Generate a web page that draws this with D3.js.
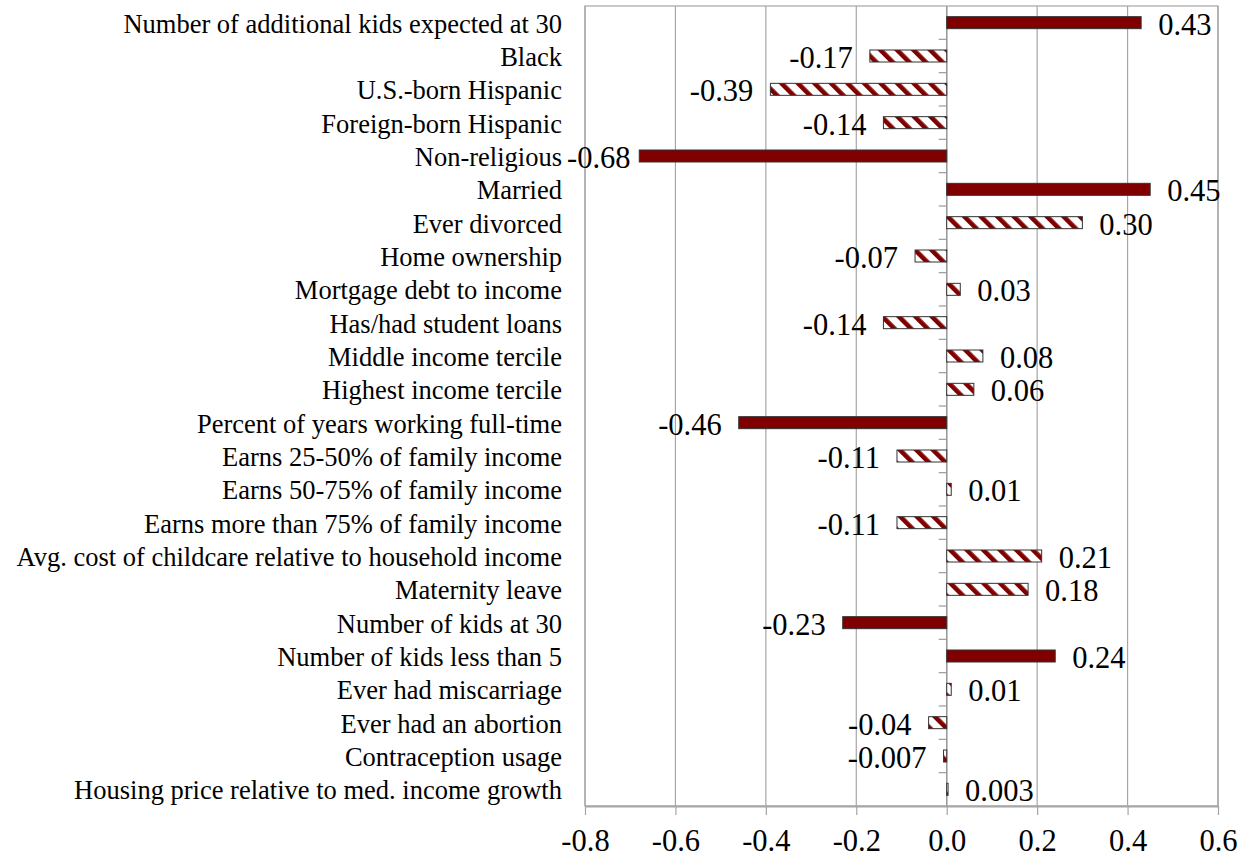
<!DOCTYPE html>
<html>
<head>
<meta charset="utf-8">
<script src="https://cdn.jsdelivr.net/npm/d3@7"></script>
<style>
  html, body { margin: 0; padding: 0; background: #fff; }
  svg { display: block; }
  svg text { font-family: "Liberation Serif", "Times New Roman", Times, serif; fill: #000; }
</style>
</head>
<body>
<svg id="chart" width="1252" height="863"></svg>
<script>
// Coefficient estimates by variable (top to bottom)
const categories = [
  "Number of additional kids expected at 30",
  "Black",
  "U.S.-born Hispanic",
  "Foreign-born Hispanic",
  "Non-religious",
  "Married",
  "Ever divorced",
  "Home ownership",
  "Mortgage debt to income",
  "Has/had student loans",
  "Middle income tercile",
  "Highest income tercile",
  "Percent of years working full-time",
  "Earns 25-50% of family income",
  "Earns 50-75% of family income",
  "Earns more than 75% of family income",
  "Avg. cost of childcare relative to household income",
  "Maternity leave",
  "Number of kids at 30",
  "Number of kids less than 5",
  "Ever had miscarriage",
  "Ever had an abortion",
  "Contraception usage",
  "Housing price relative to med. income growth"
];
const values = [
  0.43, -0.17, -0.39, -0.14, -0.68, 0.45, 0.30, -0.07, 0.03, -0.14,
  0.08, 0.06, -0.46, -0.11, 0.01, -0.11, 0.21, 0.18, -0.23, 0.24,
  0.01, -0.04, -0.007, 0.003
];
// true = statistically significant (solid fill), false = hatched
const significant = [
  true, false, false, false, true, true, false, false, false, false,
  false, false, true, false, false, false, false, false, true, true,
  false, false, false, false
];
const xTicks = [-0.8, -0.6, -0.4, -0.2, 0.0, 0.2, 0.4, 0.6];

const data = categories.map((c, i) => ({ name: c, value: values[i], sig: significant[i] }));

const svg = d3.select("#chart");
const darkRed = "#800000";
const gridColor = "#a6a6a6";

const plot = { left: 585, right: 1218, top: 6, bottom: 806 };

const x = d3.scaleLinear().domain([-0.8, 0.6]).range([plot.left, plot.right]);
const y = d3.scaleBand().domain(categories)
  .range([plot.top, plot.bottom])
  .paddingInner(0.64).paddingOuter(0.32);

// Hyphen-minus formatting
const loc = d3.formatLocale({ decimal: ".", thousands: ",", grouping: [3], currency: ["", ""], minus: "-" });
const fmt1 = loc.format(".1f");
const valueFmt = v => Math.abs(v) < 0.01 ? loc.format(".3f")(v) : loc.format(".2f")(v);

// Diagonal hatch fill
const defs = svg.append("defs");
const pat = defs.append("pattern")
  .attr("id", "hatch")
  .attr("patternUnits", "userSpaceOnUse")
  .attr("width", 11.7).attr("height", 20)
  .attr("patternTransform", "rotate(-45)");
pat.append("rect").attr("width", 11.7).attr("height", 20).attr("fill", "#fff");
pat.append("rect").attr("width", 4.6).attr("height", 20).attr("fill", darkRed);

// Vertical gridlines
svg.append("g")
  .selectAll("line")
  .data(xTicks)
  .join("line")
  .attr("x1", d => x(d)).attr("x2", d => x(d))
  .attr("y1", plot.top).attr("y2", plot.bottom)
  .attr("stroke", gridColor).attr("stroke-width", 1.2);

// Plot frame
svg.append("rect")
  .attr("x", plot.left).attr("y", plot.top)
  .attr("width", plot.right - plot.left).attr("height", plot.bottom - plot.top)
  .attr("fill", "none").attr("stroke", gridColor).attr("stroke-width", 1.2);

// Bottom value axis
const xAxis = svg.append("g")
  .attr("transform", `translate(0,${plot.bottom})`)
  .call(d3.axisBottom(x).tickValues(xTicks).tickFormat(fmt1).tickSizeInner(9).tickSizeOuter(0).tickPadding(14));
xAxis.attr("font-family", null).attr("font-size", null);
xAxis.select(".domain").attr("stroke", gridColor).attr("stroke-width", 2);
xAxis.selectAll(".tick line").attr("stroke", gridColor).attr("stroke-width", 1.2);
xAxis.selectAll(".tick text")
  .style("font-size", "30.5px").attr("fill", "#000");

// Category axis at zero with ticks between categories
const boundaries = d3.range(1, categories.length).map(i => plot.top + i * y.step());
const zeroAxis = svg.append("g");
zeroAxis.append("line")
  .attr("x1", x(0)).attr("x2", x(0))
  .attr("y1", plot.top).attr("y2", plot.bottom)
  .attr("stroke", "#9a9a9a").attr("stroke-width", 1.4);
zeroAxis.selectAll("line.tk")
  .data(boundaries)
  .join("line")
  .attr("class", "tk")
  .attr("x1", x(0) - 8).attr("x2", x(0))
  .attr("y1", d => d).attr("y2", d => d)
  .attr("stroke", "#9a9a9a").attr("stroke-width", 1.2);

// Bars
svg.append("g")
  .selectAll("rect")
  .data(data)
  .join("rect")
  .attr("x", d => x(Math.min(0, d.value)))
  .attr("y", d => y(d.name))
  .attr("width", d => Math.abs(x(d.value) - x(0)))
  .attr("height", y.bandwidth())
  .attr("fill", d => d.sig ? darkRed : "url(#hatch)")
  .attr("stroke", "#333")
  .attr("stroke-width", 1);

// Category labels
svg.append("g")
  .selectAll("text")
  .data(data)
  .join("text")
  .attr("x", plot.left - 23)
  .attr("y", d => y(d.name) + y.bandwidth() / 2 + 10)
  .attr("text-anchor", "end")
  .style("font-size", "26.5px")
  .text(d => d.name);

// Value labels beside each bar, kept inside the chart area
const labelFont = 30.5;
const minLeft = 567;
svg.append("g")
  .selectAll("text")
  .data(data)
  .join("text")
  .each(function (d) {
    const t = d3.select(this).text(valueFmt(d.value))
      .attr("y", y(d.name) + y.bandwidth() / 2 + 12)
      .style("font-size", labelFont + "px");
    if (d.value >= 0) {
      t.attr("x", x(d.value) + 17).attr("text-anchor", "start");
    } else {
      let right = x(d.value) - 17;
      const w = this.getComputedTextLength();
      if (right - w < minLeft) right = minLeft + w;
      t.attr("x", right).attr("text-anchor", "end");
    }
  });
</script>
</body>
</html>
